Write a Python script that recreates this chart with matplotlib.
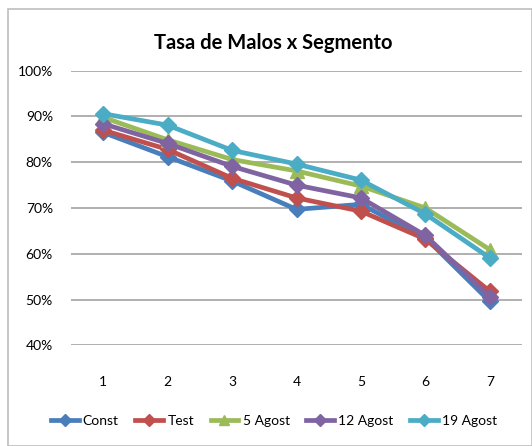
import matplotlib
matplotlib.use("Agg")
import matplotlib.pyplot as plt
from matplotlib.patches import Rectangle
from matplotlib.ticker import FuncFormatter

segments = [1, 2, 3, 4, 5, 6, 7]
const = [86.5, 81.2, 75.9, 69.7, 70.8, 63.5, 49.6]
test = [87.0, 82.8, 76.5, 72.2, 69.3, 63.2, 51.8]
agost5 = [89.8, 84.9, 80.6, 78.1, 74.8, 70.0, 60.9]
agost12 = [88.4, 84.1, 79.1, 75.0, 72.2, 64.0, 50.6]
agost19 = [90.6, 88.1, 82.6, 79.6, 76.1, 68.7, 59.1]
series_names = ["Const", "Test", "5 Agost", "12 Agost", "19 Agost"]
series_vals = [const, test, agost5, agost12, agost19]
colors = ["#4A7EBB", "#C0504D", "#9BBB59", "#8064A2", "#4BACC6"]
markers = ["D", "D", "^", "D", "D"]
yticks = [40, 50, 60, 70, 80, 90, 100]

plt.rcParams["font.family"] = ["Lato", "DejaVu Sans"]

fig = plt.figure(figsize=(5.32, 4.46), dpi=100)
fig.patches.append(Rectangle((8/532, 0.5/446), (532-8.5)/532, (446-8-1)/446,
                             transform=fig.transFigure, fill=False,
                             edgecolor="#BFBFBF", linewidth=1.2))
ax = fig.add_axes([71/532, 100.7/446, 451/532, 274.6/446])

for name, vals, c, m in zip(series_names, series_vals, colors, markers):
    ax.plot(segments, vals, color=c, linewidth=3.4, marker=m,
            markersize=8 if m == "D" else 9.5, markerfacecolor=c,
            markeredgecolor=c, label=name, solid_joinstyle="round")

ax.set_xlim(0.5, 7.5)
ax.set_ylim(40, 100)
ax.set_yticks(yticks)
ax.yaxis.set_major_formatter(FuncFormatter(lambda v, p: f"{int(v)}%"))
ax.set_xticks(segments)
ax.grid(axis="y", color="#9A9A9A", linewidth=1.1)
ax.set_axisbelow(True)
for s in ax.spines.values():
    s.set_visible(False)
ax.tick_params(axis="both", length=0, labelsize=10, colors="black")
ax.tick_params(axis="y", pad=13)
ax.tick_params(axis="x", pad=22)

fig.text(273/532, 1 - 43/446, "Tasa de Malos x Segmento", ha="center",
         va="center", fontsize=14.5, fontweight="bold")

leg = fig.legend(loc="center", bbox_to_anchor=(274/532, 1 - 421/446), ncol=5,
                 frameon=False, fontsize=10, handlelength=2.0,
                 handletextpad=0.3, columnspacing=1.2, markerscale=0.8)
fig.savefig("out.png", dpi=100)
